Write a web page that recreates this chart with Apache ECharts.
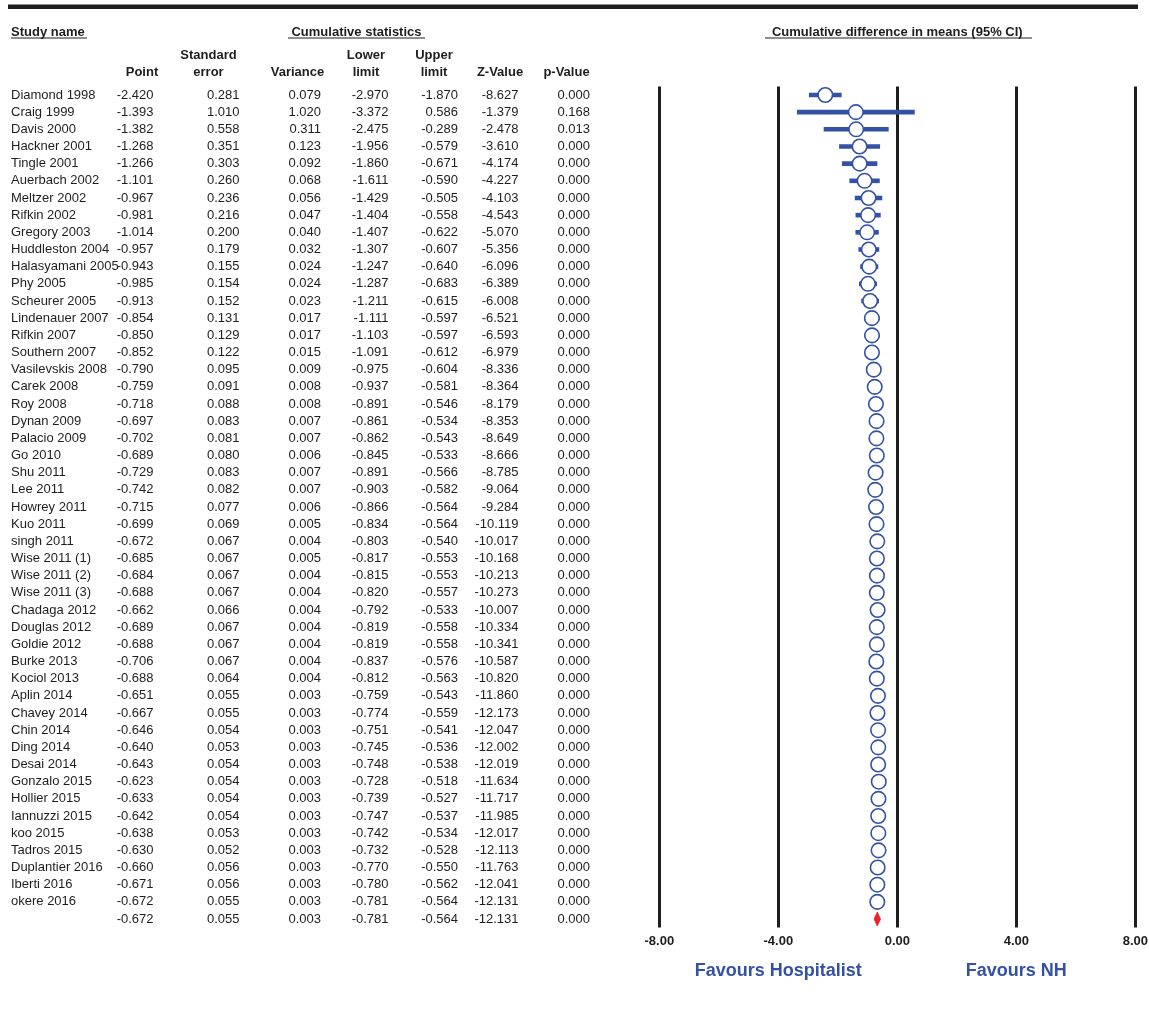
<!DOCTYPE html>
<html>
<head>
<meta charset="utf-8">
<script src="https://cdn.jsdelivr.net/npm/echarts@6/dist/echarts.min.js"></script>
<style>
  html, body { margin: 0; padding: 0; background: #fff; }
  #chart { width: 1149px; height: 1017px; }
</style>
</head>
<body>
<div id="chart"></div>
<script>
// Cumulative meta-analysis: one row per study added, last row is the pooled result
const studies = [
  'Diamond 1998', 'Craig 1999', 'Davis 2000', 'Hackner 2001', 'Tingle 2001',
  'Auerbach 2002', 'Meltzer 2002', 'Rifkin 2002', 'Gregory 2003', 'Huddleston 2004',
  'Halasyamani 2005', 'Phy 2005', 'Scheurer 2005', 'Lindenauer 2007', 'Rifkin 2007',
  'Southern 2007', 'Vasilevskis 2008', 'Carek 2008', 'Roy 2008', 'Dynan 2009',
  'Palacio 2009', 'Go 2010', 'Shu 2011', 'Lee 2011', 'Howrey 2011',
  'Kuo 2011', 'singh 2011', 'Wise 2011 (1)', 'Wise 2011 (2)', 'Wise 2011 (3)',
  'Chadaga 2012', 'Douglas 2012', 'Goldie 2012', 'Burke 2013', 'Kociol 2013',
  'Aplin 2014', 'Chavey 2014', 'Chin 2014', 'Ding 2014', 'Desai 2014',
  'Gonzalo 2015', 'Hollier 2015', 'Iannuzzi 2015', 'koo 2015', 'Tadros 2015',
  'Duplantier 2016', 'Iberti 2016', 'okere 2016'
];
const pointEst = [
  -2.420, -1.393, -1.382, -1.268, -1.266, -1.101, -0.967, -0.981, -1.014, -0.957,
  -0.943, -0.985, -0.913, -0.854, -0.850, -0.852, -0.790, -0.759, -0.718, -0.697,
  -0.702, -0.689, -0.729, -0.742, -0.715, -0.699, -0.672, -0.685, -0.684, -0.688,
  -0.662, -0.689, -0.688, -0.706, -0.688, -0.651, -0.667, -0.646, -0.640, -0.643,
  -0.623, -0.633, -0.642, -0.638, -0.630, -0.660, -0.671, -0.672
];
const stdError = [
  0.281, 1.010, 0.558, 0.351, 0.303, 0.260, 0.236, 0.216, 0.200, 0.179,
  0.155, 0.154, 0.152, 0.131, 0.129, 0.122, 0.095, 0.091, 0.088, 0.083,
  0.081, 0.080, 0.083, 0.082, 0.077, 0.069, 0.067, 0.067, 0.067, 0.067,
  0.066, 0.067, 0.067, 0.067, 0.064, 0.055, 0.055, 0.054, 0.053, 0.054,
  0.054, 0.054, 0.054, 0.053, 0.052, 0.056, 0.056, 0.055
];
const variance = [
  0.079, 1.020, 0.311, 0.123, 0.092, 0.068, 0.056, 0.047, 0.040, 0.032,
  0.024, 0.024, 0.023, 0.017, 0.017, 0.015, 0.009, 0.008, 0.008, 0.007,
  0.007, 0.006, 0.007, 0.007, 0.006, 0.005, 0.004, 0.005, 0.004, 0.004,
  0.004, 0.004, 0.004, 0.004, 0.004, 0.003, 0.003, 0.003, 0.003, 0.003,
  0.003, 0.003, 0.003, 0.003, 0.003, 0.003, 0.003, 0.003
];
const lowerLimit = [
  -2.970, -3.372, -2.475, -1.956, -1.860, -1.611, -1.429, -1.404, -1.407, -1.307,
  -1.247, -1.287, -1.211, -1.111, -1.103, -1.091, -0.975, -0.937, -0.891, -0.861,
  -0.862, -0.845, -0.891, -0.903, -0.866, -0.834, -0.803, -0.817, -0.815, -0.820,
  -0.792, -0.819, -0.819, -0.837, -0.812, -0.759, -0.774, -0.751, -0.745, -0.748,
  -0.728, -0.739, -0.747, -0.742, -0.732, -0.770, -0.780, -0.781
];
const upperLimit = [
  -1.870, 0.586, -0.289, -0.579, -0.671, -0.590, -0.505, -0.558, -0.622, -0.607,
  -0.640, -0.683, -0.615, -0.597, -0.597, -0.612, -0.604, -0.581, -0.546, -0.534,
  -0.543, -0.533, -0.566, -0.582, -0.564, -0.564, -0.540, -0.553, -0.553, -0.557,
  -0.533, -0.558, -0.558, -0.576, -0.563, -0.543, -0.559, -0.541, -0.536, -0.538,
  -0.518, -0.527, -0.537, -0.534, -0.528, -0.550, -0.562, -0.564
];
const zValue = [
  -8.627, -1.379, -2.478, -3.610, -4.174, -4.227, -4.103, -4.543, -5.070, -5.356,
  -6.096, -6.389, -6.008, -6.521, -6.593, -6.979, -8.336, -8.364, -8.179, -8.353,
  -8.649, -8.666, -8.785, -9.064, -9.284, -10.119, -10.017, -10.168, -10.213, -10.273,
  -10.007, -10.334, -10.341, -10.587, -10.820, -11.860, -12.173, -12.047, -12.002, -12.019,
  -11.634, -11.717, -11.985, -12.017, -12.113, -11.763, -12.041, -12.131
];
const pValue = [
  0.000, 0.168, 0.013, 0.000, 0.000, 0.000, 0.000, 0.000, 0.000, 0.000,
  0.000, 0.000, 0.000, 0.000, 0.000, 0.000, 0.000, 0.000, 0.000, 0.000,
  0.000, 0.000, 0.000, 0.000, 0.000, 0.000, 0.000, 0.000, 0.000, 0.000,
  0.000, 0.000, 0.000, 0.000, 0.000, 0.000, 0.000, 0.000, 0.000, 0.000,
  0.000, 0.000, 0.000, 0.000, 0.000, 0.000, 0.000, 0.000
];
// Pooled (final) row: point, SE, variance, lower, upper, Z, p
const pooledStats = [-0.672, 0.055, 0.003, -0.781, -0.564, -12.131, 0.000];

// Column headers (two lines each) and axis ticks
const columnHeads = [
  ['', 'Point'], ['Standard', 'error'], ['', 'Variance'],
  ['Lower', 'limit'], ['Upper', 'limit'], ['', 'Z-Value'], ['', 'p-Value']
];
const xTicks = [-8, -4, 0, 4, 8];
const favourLabels = ['Favours Hospitalist', 'Favours NH'];

// ---- layout / style ----
const FONT = "'Liberation Sans', Arial, Helvetica, sans-serif";
const BLUE = '#3452a4';
const INK = '#1e1e1e';
const GRID_LEFT = 659.3;
const GRID_RIGHT = 1149 - 1135.3;
const GRID_TOP = 86.4;
const GRID_BOTTOM = 1017 - 927.6;
// right edge of each numeric column, and header centre x
const colRight = [153.5, 239.5, 321, 388.5, 458, 518.5, 590];
const headCenter = [142, 208.5, 297.5, 366, 434, 500, 566.5];
const NAME_X = 11;

const statCols = [pointEst, stdError, variance, lowerLimit, upperLimit, zValue, pValue];
const rowCount = studies.length + 1;
const rowNames = studies.concat(['']);

const tableAxes = statCols.map((arr, c) => ({
  type: 'category',
  gridIndex: 0,
  position: 'left',
  inverse: true,
  offset: GRID_LEFT - colRight[c],
  data: arr.concat([pooledStats[c]]).map(v => v.toFixed(3)),
  axisLine: { show: false },
  axisTick: { show: false },
  splitLine: { show: false },
  axisLabel: {
    interval: 0, margin: 0, align: 'right',
    fontFamily: FONT, fontSize: 13, color: INK
  }
}));

const chart = echarts.init(document.getElementById('chart'), null, { renderer: 'canvas' });

chart.setOption({
  animation: false,
  backgroundColor: '#fff',
  grid: {
    left: GRID_LEFT, right: GRID_RIGHT, top: GRID_TOP, bottom: GRID_BOTTOM,
    containLabel: false, outerBoundsMode: 'none'
  },
  xAxis: {
    type: 'value',
    min: xTicks[0], max: xTicks[xTicks.length - 1], interval: 4,
    axisLine: { show: false },
    axisTick: { show: false },
    splitLine: { show: true, showMinLine: true, showMaxLine: true,
      lineStyle: { color: INK, width: 3 } },
    axisLabel: {
      margin: 7, fontFamily: FONT, fontSize: 13, fontWeight: 'bold', color: INK,
      formatter: v => v.toFixed(2)
    }
  },
  yAxis: [{
    type: 'category',
    gridIndex: 0,
    position: 'left',
    inverse: true,
    offset: GRID_LEFT - NAME_X,
    data: rowNames,
    axisLine: { show: false },
    axisTick: { show: false },
    splitLine: { show: false },
    axisLabel: {
      interval: 0, margin: 0, align: 'left',
      fontFamily: FONT, fontSize: 13, color: INK
    }
  }].concat(tableAxes),
  series: [
    {
      // confidence-interval bars of each cumulative step
      type: 'custom',
      name: 'ci',
      xAxisIndex: 0, yAxisIndex: 0,
      encode: { x: [0, 1], y: 2 },
      data: studies.map((s, i) => [lowerLimit[i], upperLimit[i], i]),
      renderItem: (params, api) => {
        const a = api.coord([api.value(0), api.value(2)]);
        const b = api.coord([api.value(1), api.value(2)]);
        return {
          type: 'line',
          shape: { x1: a[0], y1: a[1], x2: b[0], y2: b[1] },
          style: { stroke: BLUE, lineWidth: 4.6, lineCap: 'butt' }
        };
      },
      z: 3
    },
    {
      // point estimates
      type: 'scatter',
      name: 'point',
      xAxisIndex: 0, yAxisIndex: 0,
      data: pointEst.map((v, i) => [v, i]),
      symbol: 'circle',
      symbolSize: 14.5,
      itemStyle: { color: '#ffffff', borderColor: BLUE, borderWidth: 1.6, opacity: 1 },
      emphasis: { disabled: true },
      z: 4
    },
    {
      // pooled estimate diamond
      type: 'custom',
      name: 'pooled',
      xAxisIndex: 0, yAxisIndex: 0,
      encode: { x: [0, 1, 2], y: 3 },
      data: [[pooledStats[3], pooledStats[0], pooledStats[4], rowCount - 1]],
      renderItem: (params, api) => {
        const y = api.value(3);
        const lo = api.coord([api.value(0), y]);
        const mid = api.coord([api.value(1), y]);
        const hi = api.coord([api.value(2), y]);
        const h = 7;
        return {
          type: 'polygon',
          shape: { points: [[lo[0], lo[1]], [mid[0], mid[1] - h], [hi[0], hi[1]], [mid[0], mid[1] + h]] },
          style: { fill: '#e8232a', stroke: '#e8232a', lineWidth: 0.8 }
        };
      },
      z: 4
    }
  ]
});

// Header texts, rules and the direction labels under the axis
const xLeft = chart.convertToPixel({ xAxisIndex: 0 }, -4);
const xRight = chart.convertToPixel({ xAxisIndex: 0 }, 4);
const xZero = chart.convertToPixel({ xAxisIndex: 0 }, 0);

const boldText = (x, y, text, align, size, color) => ({
  type: 'text', x: x, y: y, silent: true,
  style: {
    text: text, x: 0, y: 0, align: align || 'center', verticalAlign: 'middle',
    font: 'bold ' + (size || 13) + 'px ' + FONT, fill: color || INK
  }
});
const rule = (x1, x2, y, w) => ({
  type: 'line', silent: true,
  shape: { x1: x1, y1: y, x2: x2, y2: y },
  style: { stroke: INK, lineWidth: w || 1 }
});

const graphics = [
  { type: 'rect', silent: true, shape: { x: 8, y: 4.5, width: 1130, height: 4.5 }, style: { fill: INK } },
  boldText(NAME_X, 32, 'Study name', 'left'),
  rule(11, 87, 38),
  boldText(356.5, 32, 'Cumulative statistics'),
  rule(288, 425, 38),
  boldText(xZero, 32, 'Cumulative difference in means (95% CI)'),
  rule(765, 1032, 38)
];
columnHeads.forEach((h, c) => {
  if (h[0]) graphics.push(boldText(headCenter[c], 55, h[0]));
  graphics.push(boldText(headCenter[c], 72, h[1]));
});
graphics.push(boldText(xLeft, 971, favourLabels[0], 'center', 18, BLUE));
graphics.push(boldText(xRight, 971, favourLabels[1], 'center', 18, BLUE));

chart.setOption({ graphic: graphics });
</script>
</body>
</html>
